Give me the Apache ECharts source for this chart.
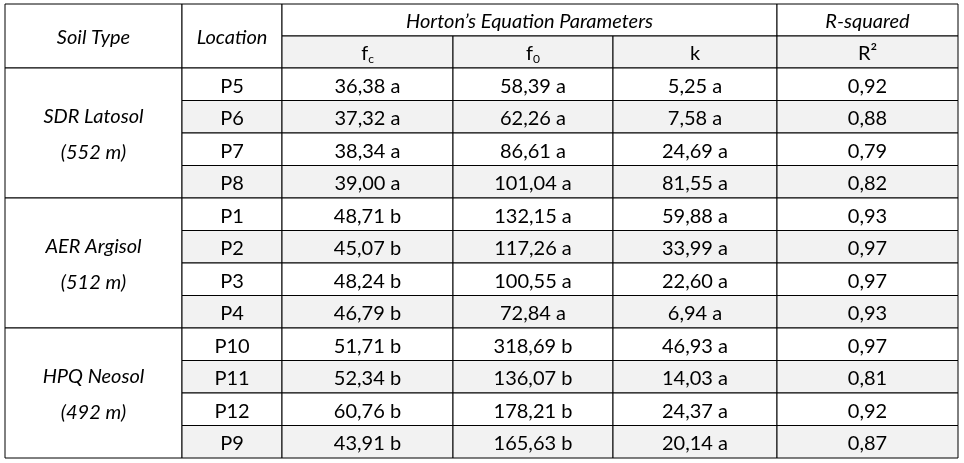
<!DOCTYPE html><html><head><meta charset="utf-8"><script src="https://cdn.jsdelivr.net/npm/echarts@6/dist/echarts.min.js"></script>
<style>html,body{margin:0;padding:0;background:#fff}#c{width:964px;height:463px}</style></head><body><div id="c"></div><script>
const soilTypes=['SDR Latosol\n(552 m)','AER Argisol\n(512 m)','HPQ Neosol\n(492 m)'];
const locations=['P5','P6','P7','P8','P1','P2','P3','P4','P10','P11','P12','P9'];
const fc=['36,38 a','37,32 a','38,34 a','39,00 a','48,71 b','45,07 b','48,24 b','46,79 b','51,71 b','52,34 b','60,76 b','43,91 b'];
const f0=['58,39 a','62,26 a','86,61 a','101,04 a','132,15 a','117,26 a','100,55 a','72,84 a','318,69 b','136,07 b','178,21 b','165,63 b'];
const kv=['5,25 a','7,58 a','24,69 a','81,55 a','59,88 a','33,99 a','22,60 a','6,94 a','46,93 a','14,03 a','24,37 a','20,14 a'];
const r2=['0,92','0,88','0,79','0,82','0,93','0,97','0,97','0,93','0,97','0,81','0,92','0,87'];
const colX=[5,182,282,453,613,777,958];
const rowY=[4,36,68];for(let i=1;i<=12;i++)rowY.push(68+i*32.5);
const FONT='Lato';
const cells=[];
cells.push([0,1,0,2,'Soil Type','#fff',1]);
cells.push([1,2,0,2,'Location','#fff',1]);
cells.push([2,5,0,1,'Horton’s Equation Parameters','#fff',1]);
cells.push([5,6,0,1,'R-squared','#fff',1]);
cells.push([2,3,1,2,'{n|f}{s|c}','#f2f2f2',0]);
cells.push([3,4,1,2,'{n|f}{s|0}','#f2f2f2',0]);
cells.push([4,5,1,2,'{n|k}','#f2f2f2',0]);
cells.push([5,6,1,2,'{n|R²}','#f2f2f2',0]);
soilTypes.forEach((s,g)=>cells.push([0,1,2+g*4,6+g*4,s,'#fff',1]));
locations.forEach((l,i)=>{const f=i%2?'#f2f2f2':'#fff';const r=2+i;
 [l,fc[i],f0[i],kv[i],r2[i]].forEach((t,j)=>cells.push([1+j,2+j,r,r+1,t,f,0]));});
const chart=echarts.init(document.getElementById('c'));
chart.setOption({animation:false,
grid:{left:0,right:0,top:0,bottom:0},
xAxis:{type:'value',min:0,max:964,show:false},
yAxis:{type:'value',min:0,max:463,inverse:true,show:false},
series:[{type:'custom',data:cells,renderItem:(p,api)=>{
 const c=cells[p.dataIndex];
 const a=api.coord([colX[c[0]],rowY[c[2]]]),b=api.coord([colX[c[1]],rowY[c[3]]]);
 return {type:'group',children:[
  {type:'rect',shape:{x:a[0],y:a[1],width:b[0]-a[0],height:b[1]-a[1]},style:{fill:c[5],stroke:'#000',lineWidth:1}},
  {type:'text',x:(a[0]+b[0])/2,y:(a[1]+b[1])/2+2,style:{text:c[4],align:'center',verticalAlign:'middle',
   fontFamily:FONT,fontSize:20,fontStyle:c[6]?'italic':'normal',fill:'#000',lineHeight:36,
   rich:{n:{fontFamily:FONT,fontSize:20,fill:'#000',lineHeight:22},s:{fontFamily:FONT,fontSize:12,fill:'#000',lineHeight:12,verticalAlign:'bottom',padding:[0,0,0,0]}}}}
 ]};
}}]});
</script></body></html>
